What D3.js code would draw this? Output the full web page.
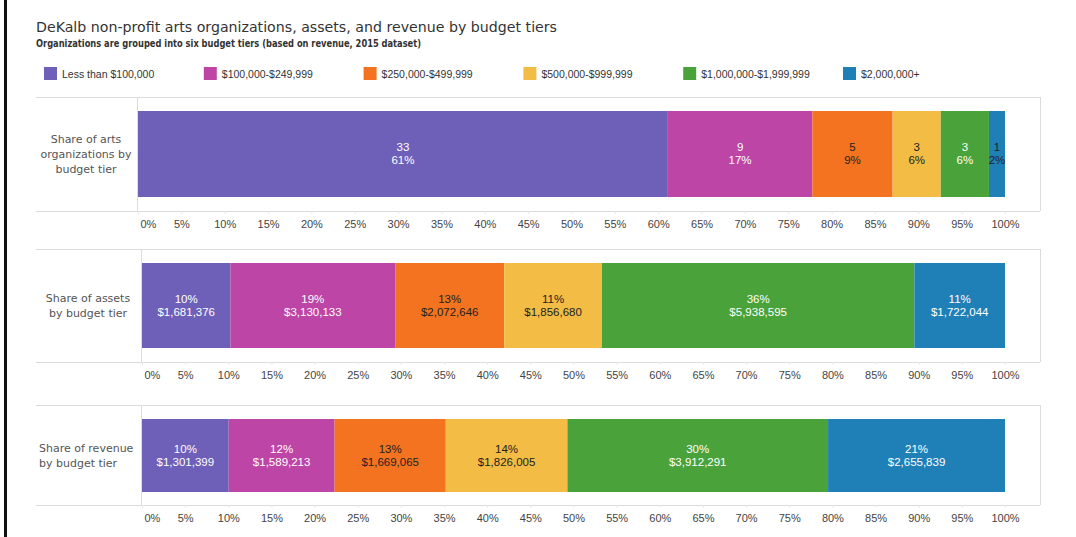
<!DOCTYPE html>
<html>
<head>
<meta charset="utf-8">
<script src="https://cdn.jsdelivr.net/npm/d3@7"></script>
<style>
  body { margin: 0; background: #fff; }
  svg { display: block; }
</style>
</head>
<body>
<svg id="chart" width="1076" height="537"></svg>
<script>
// budget tiers (legend order = stack order)
var tiers = ["Less than $100,000", "$100,000-$249,999", "$250,000-$499,999",
    "$500,000-$999,999", "$1,000,000-$1,999,999", "$2,000,000+"];

var orgCounts = [33, 9, 5, 3, 3, 1];
var orgPctLabels = ["61%", "17%", "9%", "6%", "6%", "2%"];

var assetValues = [1681376, 3130133, 2072646, 1856680, 5938595, 1722044];
var assetPctLabels = ["10%", "19%", "13%", "11%", "36%", "11%"];

var revenueValues = [1301399, 1589213, 1669065, 1826005, 3912291, 2655839];
var revenuePctLabels = ["10%", "12%", "13%", "14%", "30%", "21%"];

var rowLabels = [
    ["Share of arts", "organizations by", "budget tier"],
    ["Share of assets", "by budget tier"],
    ["Share of revenue", "by budget tier"]
];

var tickValues = d3.range(0, 21).map(function (i) { return i * 5; });

var tierColors = ["#6e60b8", "#bd45a6", "#f37321", "#f2bc45", "#4aa33a", "#1f80b7"];
var darkText = [false, false, true, true, false, false];

var money = d3.format("$,");

var svg = d3.select("#chart");

// frame of the screenshot
svg.append("rect").attr("x", 4).attr("y", 0).attr("width", 3).attr("height", 537).attr("fill", "#111");

// title
svg.append("text")
    .attr("x", 36).attr("y", 32)
    .style("font", "14px 'DejaVu Sans', sans-serif")
    .attr("fill", "#333")
    .attr("textLength", 521).attr("lengthAdjust", "spacingAndGlyphs")
    .text("DeKalb non-profit arts organizations, assets, and revenue by budget tiers");

svg.append("text")
    .attr("x", 36).attr("y", 47)
    .style("font", "bold 10px 'DejaVu Sans Condensed', 'DejaVu Sans', sans-serif")
    .attr("fill", "#333")
    .attr("textLength", 385).attr("lengthAdjust", "spacingAndGlyphs")
    .text("Organizations are grouped into six budget tiers (based on revenue, 2015 dataset)");

// legend
var legend = svg.append("g");
var lg = legend.selectAll("g").data(tiers).enter().append("g")
    .attr("transform", function (d, i) { return "translate(" + (44 + i * 159.8) + ",67)"; });
lg.append("rect").attr("width", 13).attr("height", 13)
    .attr("fill", function (d, i) { return tierColors[i]; });
lg.append("text").attr("x", 18).attr("y", 10.5)
    .style("font", "10.5px 'Liberation Sans', Arial, sans-serif")
    .attr("fill", "#333")
    .text(function (d) { return d; });

// one panel per stacked bar
var drawPanel = function (values, line1, line2, labelLines, p) {
    var total = d3.sum(values);
    var x = d3.scaleLinear().domain([0, 100]).range([p.left, 1005]);

    var segs = [], acc = 0;
    for (var i = 0; i < values.length; i++) {
        segs.push({i: i, x0: acc / total * 100, x1: (acc + values[i]) / total * 100, l1: line1[i], l2: line2[i]});
        acc += values[i];
    }

    var g = svg.append("g");

    // box lines
    g.append("line").attr("x1", 36).attr("x2", 1040).attr("y1", p.top + 0.5).attr("y2", p.top + 0.5)
        .attr("stroke", "#dcdcdc");
    g.append("line").attr("x1", 36).attr("x2", 1040).attr("y1", p.bottom + 0.5).attr("y2", p.bottom + 0.5)
        .attr("stroke", "#dcdcdc");
    g.append("line").attr("x1", 1040.5).attr("x2", 1040.5).attr("y1", p.top).attr("y2", p.bottom)
        .attr("stroke", "#dcdcdc");
    g.append("line").attr("x1", p.left - 0.5).attr("x2", p.left - 0.5).attr("y1", p.top).attr("y2", p.bottom)
        .attr("stroke", "#dcdcdc");

    // bars
    g.selectAll("rect.seg").data(segs).enter().append("rect")
        .attr("class", "seg")
        .attr("x", function (d) { return x(d.x0); })
        .attr("width", function (d) { return x(d.x1) - x(d.x0); })
        .attr("y", p.barTop)
        .attr("height", p.barBottom - p.barTop)
        .attr("fill", function (d) { return tierColors[d.i]; });

    var cy = (p.barTop + p.barBottom) / 2;
    var lab = g.selectAll("g.lab").data(segs).enter().append("g")
        .attr("transform", function (d) { return "translate(" + (x(d.x0) + x(d.x1)) / 2 + ",0)"; });
    [["l1", cy - 3], ["l2", cy + 10]].forEach(function (k) {
        lab.append("text")
            .attr("y", k[1])
            .attr("text-anchor", "middle")
            .style("font", "11.5px 'Liberation Sans', Arial, sans-serif")
            .attr("fill", function (d) {
                var narrow = x(d.x1) - x(d.x0) < 24;
                return (darkText[d.i] || narrow) ? "#222" : "#fff";
            })
            .text(function (d) { return d[k[0]]; });
    });

    // axis
    var axis = d3.axisBottom(x).tickValues(tickValues).tickSize(3).tickPadding(8)
        .tickFormat(function (d) { return d + "%"; });
    var ax = g.append("g").attr("transform", "translate(0," + p.bottom + ")").call(axis);
    ax.select(".domain").remove();
    ax.selectAll("line").attr("stroke", "#e8e8e8");
    ax.selectAll("text")
        .style("font", "11px 'Liberation Sans', Arial, sans-serif")
        .attr("fill", "#444")
        .attr("dy", "0.32em")
        .attr("y", 13);
    ax.selectAll(".tick").filter(function (d) { return d == 0; }).select("text")
        .attr("text-anchor", "start").attr("x", 2);

    // row label
    var t = g.append("text")
        .style("font", "11px 'DejaVu Sans', sans-serif")
        .attr("fill", "#555")
        .attr("text-anchor", p.labelAnchor);
    labelLines.forEach(function (s, j) {
        t.append("tspan").attr("x", p.labelX)
            .attr("y", cy - (labelLines.length - 1) * 7.5 + j * 15 + 4)
            .text(s);
    });
};

drawPanel(orgCounts, orgCounts, orgPctLabels, rowLabels[0],
    {top: 97, bottom: 211, barTop: 111, barBottom: 197, left: 138, labelX: 86, labelAnchor: "middle"});

drawPanel(assetValues, assetPctLabels, assetValues.map(money), rowLabels[1],
    {top: 249, bottom: 362, barTop: 263, barBottom: 348, left: 142, labelX: 88, labelAnchor: "middle"});

drawPanel(revenueValues, revenuePctLabels, revenueValues.map(money), rowLabels[2],
    {top: 405, bottom: 505, barTop: 419, barBottom: 492, left: 142, labelX: 39, labelAnchor: "start"});
</script>
</body>
</html>
